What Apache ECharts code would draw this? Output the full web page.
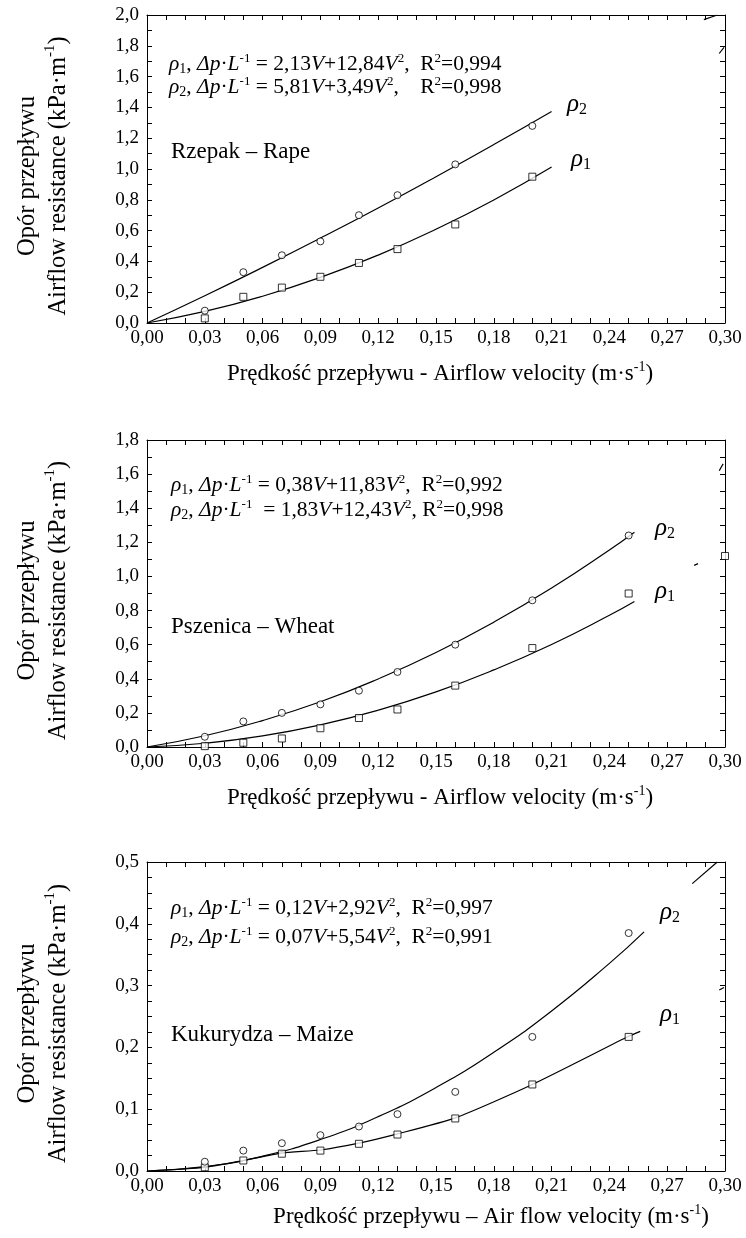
<!DOCTYPE html>
<html>
<head>
<meta charset="utf-8">
<script src="https://cdn.jsdelivr.net/npm/echarts@6/dist/echarts.min.js"></script>
<style>
  html, body { margin: 0; padding: 0; background: #fff; }
  #chart { width: 746px; height: 1238px; }
</style>
</head>
<body>
<div id="chart"></div>
<script>
const FONT = '"Liberation Serif", "Times New Roman", serif';

// ---- Rzepak - Rape ----
const rapeV = [0.03, 0.05, 0.07, 0.09, 0.11, 0.13, 0.16, 0.20];
const rapeRho1 = [0.03, 0.17, 0.23, 0.30, 0.39, 0.48, 0.64, 0.95];
const rapeRho2 = [0.08, 0.33, 0.44, 0.53, 0.70, 0.83, 1.03, 1.28];
const rapeCurveV = [0, 0.03, 0.06, 0.09, 0.12, 0.15, 0.18, 0.21];
const rapeFit1 = [0, 0.075, 0.174, 0.296, 0.441, 0.609, 0.799, 1.013];
const rapeFit2 = [0, 0.177, 0.361, 0.551, 0.747, 0.95, 1.159, 1.374];

// ---- Pszenica - Wheat ----
const wheatV = [0.03, 0.05, 0.07, 0.09, 0.11, 0.13, 0.16, 0.20, 0.25];
const wheatRho1 = [0.005, 0.025, 0.05, 0.11, 0.17, 0.22, 0.36, 0.58, 0.90];
const wheatRho2 = [0.06, 0.15, 0.20, 0.25, 0.33, 0.44, 0.60, 0.86, 1.24];
const wheatCurveV = [0, 0.03, 0.06, 0.09, 0.12, 0.15, 0.18, 0.21, 0.24, 0.253];
const wheatFit1 = [0, 0.022, 0.065, 0.130, 0.216, 0.323, 0.452, 0.601, 0.772, 0.853];
const wheatFit2 = [0, 0.066, 0.155, 0.265, 0.399, 0.554, 0.732, 0.932, 1.155, 1.259];

// ---- Kukurydza - Maize ----
const maizeV = [0.03, 0.05, 0.07, 0.09, 0.11, 0.13, 0.16, 0.20, 0.25];
const maizeRho1 = [0.006, 0.017, 0.028, 0.033, 0.044, 0.059, 0.085, 0.140, 0.217];
const maizeRho2 = [0.015, 0.033, 0.045, 0.058, 0.072, 0.092, 0.128, 0.217, 0.385];
const maizeLine1V = [0, 0.03, 0.05, 0.07, 0.09, 0.11, 0.13, 0.16, 0.20, 0.25, 0.256];
const maizeLine1 = [0, 0.006, 0.017, 0.029, 0.034, 0.045, 0.060, 0.086, 0.140, 0.218, 0.226];
const maizeCurveV = [0, 0.03, 0.06, 0.09, 0.12, 0.15, 0.18, 0.21, 0.24, 0.258];
const maizeFit2 = [0, 0.007, 0.024, 0.051, 0.088, 0.135, 0.192, 0.259, 0.336, 0.387];

// short curve pieces peeking out at the right edge of the frames
const stubs = [
  { grid: 0, v: [0.289, 0.296], y: [1.97, 2.0] },
  { grid: 0, v: [0.297, 0.2995], y: [1.75, 1.79] },
  { grid: 1, v: [0.297, 0.299], y: [1.62, 1.66] },
  { grid: 1, v: [0.284, 0.286], y: [1.065, 1.075] },
  { grid: 2, v: [0.283, 0.296], y: [0.465, 0.5] },
  { grid: 2, v: [0.297, 0.2995], y: [0.293, 0.297] }
];
const edgeSquareV = [0.30];
const edgeSquareY = [1.12];

const yMax = [2.0, 1.8, 0.5];
const yStep = [0.2, 0.2, 0.1];
const yMinor = [2, 2, 4];
const xTitles = [
  '{t|Prędkość przepływu - Airflow velocity (m·s}{s|-1}{t|)}',
  '{t|Prędkość przepływu - Airflow velocity (m·s}{s|-1}{t|)}',
  '{t|Prędkość przepływu – Air flow velocity (m·s}{s|-1}{t|)}'
];
const yTitle = '{t|Opór przepływu}\n{t|Airflow resistance (kPa·m}{s|-1}{t|)}';

const grids = [
  { left: 147, top: 15, width: 578, height: 308 },
  { left: 147, top: 440, width: 578, height: 307 },
  { left: 147, top: 862, width: 578, height: 309 }
];

function zip(xs, ys) {
  return xs.map((x, i) => [x, ys[i]]);
}

const tickStyle = { color: '#000', width: 1 };

function xAxes(gi) {
  const base = {
    type: 'value', gridIndex: gi, min: 0, max: 0.3, interval: 0.03,
    axisLine: { show: true, onZero: false, lineStyle: tickStyle },
    axisTick: { show: true, inside: true, length: 5, lineStyle: tickStyle },
    minorTick: { show: true, splitNumber: 3, length: 5, lineStyle: tickStyle },
    splitLine: { show: false }
  };
  return [
    Object.assign({}, base, {
      position: 'bottom',
      axisLabel: {
        color: '#000', fontFamily: FONT, fontSize: 19, margin: 6,
        formatter: v => v.toFixed(2).replace('.', ',')
      },
      name: xTitles[gi], nameLocation: 'middle', nameGap: gi === 2 ? 32 : 37,
      nameTextStyle: {
        padding: gi === 2 ? [0, 0, 0, 110] : [0, 0, 0, 8],
        rich: {
          t: { fontFamily: FONT, fontSize: 23, color: '#000', lineHeight: 27 },
          s: { fontFamily: FONT, fontSize: 14, color: '#000', lineHeight: 17, verticalAlign: 'top' }
        }
      }
    }),
    Object.assign({}, base, { position: 'top', axisLabel: { show: false } })
  ];
}

function yAxes(gi) {
  const base = {
    type: 'value', gridIndex: gi, min: 0, max: yMax[gi], interval: yStep[gi],
    axisLine: { show: true, onZero: false, lineStyle: tickStyle },
    axisTick: { show: true, inside: true, length: 5, lineStyle: tickStyle },
    minorTick: { show: true, splitNumber: yMinor[gi], length: 5, lineStyle: tickStyle },
    splitLine: { show: false }
  };
  return [
    Object.assign({}, base, {
      position: 'left',
      axisLabel: {
        color: '#000', fontFamily: FONT, fontSize: 19, margin: 8,
        formatter: v => v.toFixed(1).replace('.', ',')
      },
      name: yTitle, nameLocation: 'middle', nameRotate: 90, nameGap: 73,
      nameTextStyle: {
        padding: [0, 14, 0, 0],
        rich: {
          t: { fontFamily: FONT, fontSize: 24.5, color: '#000', lineHeight: 31 },
          s: { fontFamily: FONT, fontSize: 15, color: '#000', lineHeight: 20, verticalAlign: 'top' }
        }
      }
    }),
    Object.assign({}, base, { position: 'right', axisLabel: { show: false } })
  ];
}

function fitLine(gi, xs, ys, smooth) {
  return {
    type: 'line', xAxisIndex: gi * 2, yAxisIndex: gi * 2,
    data: zip(xs, ys), symbol: 'none', smooth: smooth,
    lineStyle: { color: '#000', width: 1.2 }, silent: true, z: 2
  };
}

function points(gi, xs, ys, shape) {
  return {
    type: 'scatter', xAxisIndex: gi * 2, yAxisIndex: gi * 2,
    data: zip(xs, ys), symbol: shape, symbolSize: 7,
    itemStyle: { color: '#fff', borderColor: '#000', borderWidth: 1 },
    silent: true, z: 3
  };
}

const series = [
  fitLine(0, rapeCurveV, rapeFit1, true),
  fitLine(0, rapeCurveV, rapeFit2, true),
  points(0, rapeV, rapeRho1, 'rect'),
  points(0, rapeV, rapeRho2, 'circle'),

  fitLine(1, wheatCurveV, wheatFit1, true),
  fitLine(1, wheatCurveV, wheatFit2, true),
  points(1, wheatV, wheatRho1, 'rect'),
  points(1, wheatV, wheatRho2, 'circle'),
  points(1, edgeSquareV, edgeSquareY, 'rect'),

  fitLine(2, maizeLine1V, maizeLine1, 0.2),
  fitLine(2, maizeCurveV, maizeFit2, true),
  points(2, maizeV, maizeRho1, 'rect'),
  points(2, maizeV, maizeRho2, 'circle')
];
stubs.forEach(s => series.push(fitLine(s.grid, s.v, s.y, false)));

// rich text styles for the equations and labels
const eqRich = {
  n: { fontFamily: FONT, fontSize: 21.5, lineHeight: 24, fill: '#000' },
  i: { fontFamily: FONT, fontSize: 21.5, lineHeight: 24, fontStyle: 'italic', fill: '#000' },
  sup: { fontFamily: FONT, fontSize: 13, lineHeight: 16, verticalAlign: 'top', fill: '#000' },
  sub: { fontFamily: FONT, fontSize: 14, lineHeight: 18, verticalAlign: 'bottom', fill: '#000' },
  r: { fontFamily: FONT, fontSize: 25, lineHeight: 26, fontStyle: 'italic', fill: '#000' },
  rs: { fontFamily: FONT, fontSize: 16, lineHeight: 18, verticalAlign: 'bottom', fill: '#000' },
  lab: { fontFamily: FONT, fontSize: 23, lineHeight: 26, fill: '#000' }
};

function eq(rho, a, b, r2, gap) {
  return '{i|ρ}{sub|' + rho + '}{n|, }{i|Δp}{n|·}{i|L}{sup|-1}{n|' + gap + '= ' + a +
    '}{i|V}{n|+' + b + '}{i|V}{sup|2}{n|,' + r2[0] + 'R}{sup|2}{n|=' + r2[1] + '}';
}

function txt(left, top, text) {
  return { type: 'text', left: left, top: top, silent: true, style: { text: text, rich: eqRich } };
}

const graphics = [
  txt(169, 52, eq(1, '2,13', '12,84', ['  ', '0,994'], ' ')),
  txt(169, 75, eq(2, '5,81', '3,49', ['    ', '0,998'], ' ')),
  txt(171, 140, '{lab|Rzepak – Rape}'),
  txt(567, 92, '{r|ρ}{rs|2}'),
  txt(571, 147, '{r|ρ}{rs|1}'),

  txt(171, 473, eq(1, '0,38', '11,83', ['  ', '0,992'], ' ')),
  txt(171, 498, eq(2, '1,83', '12,43', [' ', '0,998'], '  ')),
  txt(171, 615, '{lab|Pszenica – Wheat}'),
  txt(655, 516, '{r|ρ}{rs|2}'),
  txt(655, 579, '{r|ρ}{rs|1}'),

  txt(171, 896, eq(1, '0,12', '2,92', ['  ', '0,997'], ' ')),
  txt(171, 925, eq(2, '0,07', '5,54', ['  ', '0,991'], ' ')),
  txt(171, 1023, '{lab|Kukurydza – Maize}'),
  txt(660, 900, '{r|ρ}{rs|2}'),
  txt(660, 1002, '{r|ρ}{rs|1}')
];

const chart = echarts.init(document.getElementById('chart'), null, { renderer: 'canvas' });
chart.setOption({
  backgroundColor: '#ffffff',
  animation: false,
  textStyle: { fontFamily: FONT, color: '#000' },
  grid: grids,
  xAxis: [].concat(xAxes(0), xAxes(1), xAxes(2)),
  yAxis: [].concat(yAxes(0), yAxes(1), yAxes(2)),
  series: series,
  graphic: graphics
});
</script>
</body>
</html>
